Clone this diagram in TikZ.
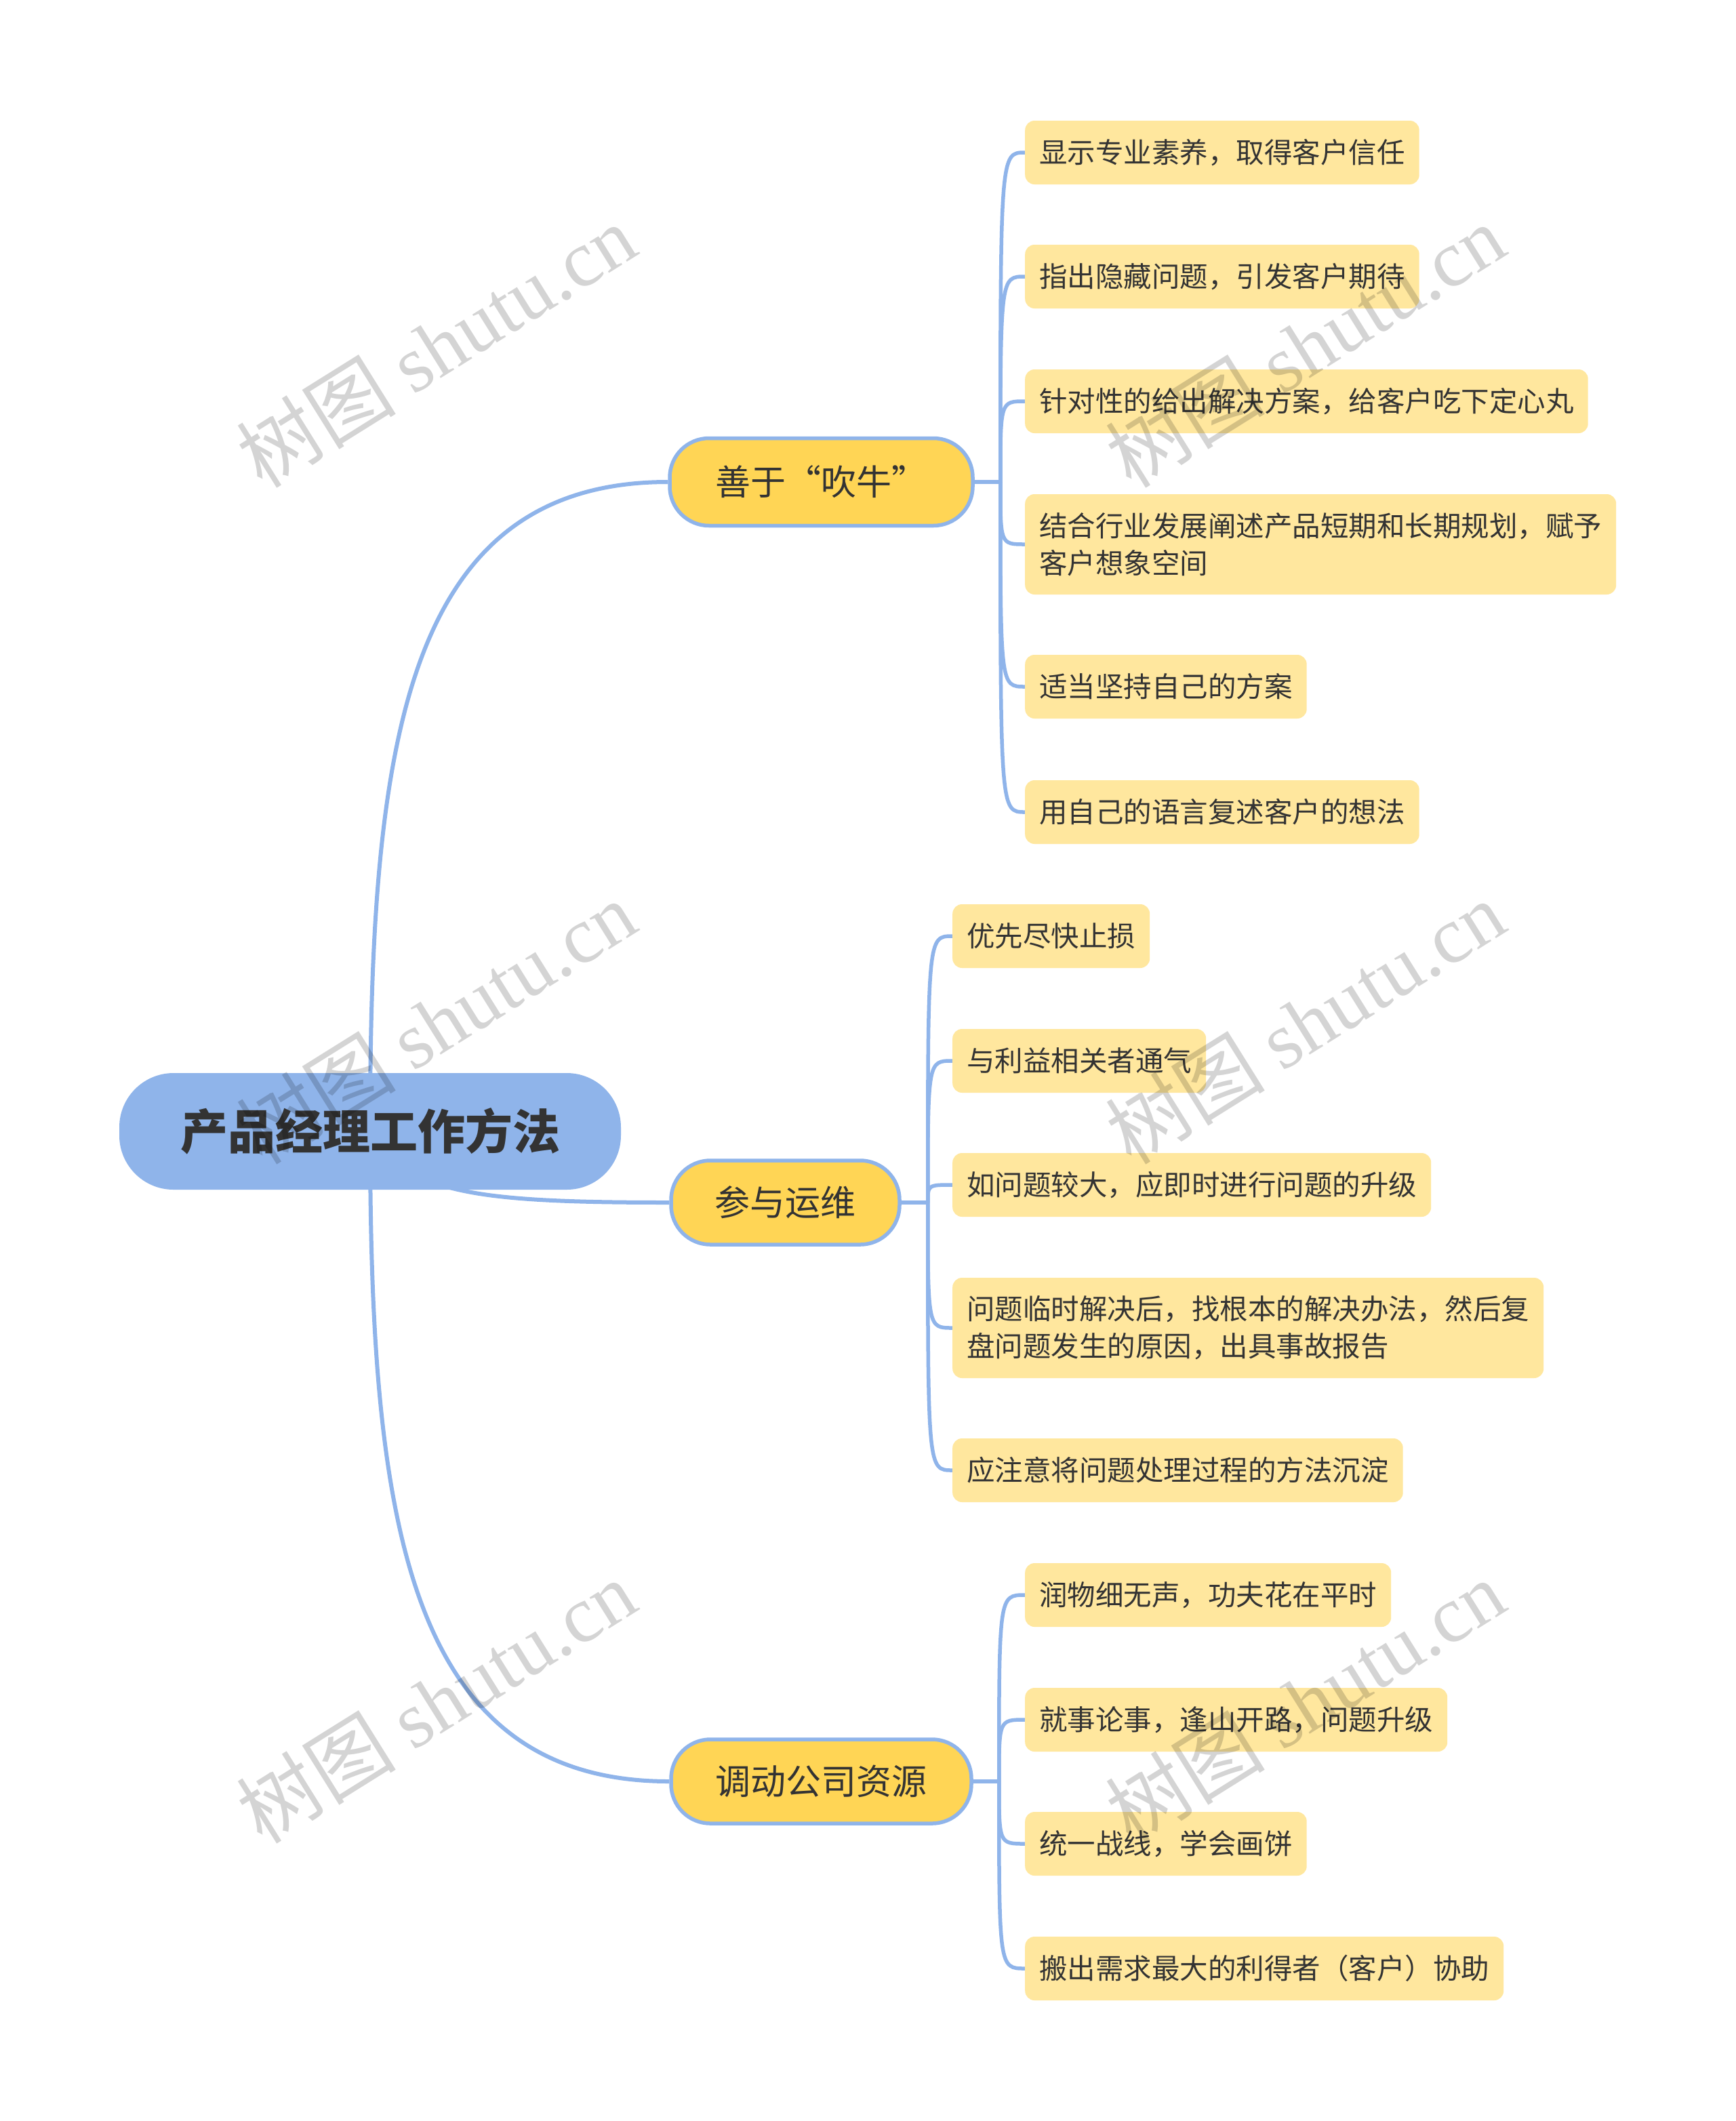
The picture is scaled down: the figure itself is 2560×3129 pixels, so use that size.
\documentclass[tikz,border=0pt]{standalone}
\usepackage{fontspec}
\setmainfont{Noto Sans CJK SC}
\newfontfamily\wmserif{Liberation Serif}
\usetikzlibrary{calc,backgrounds}
\definecolor{rootblue}{HTML}{8FB4EA}
\definecolor{linkblue}{HTML}{8FB4EA}
\definecolor{branchyel}{HTML}{FFD555}
\definecolor{leafyel}{HTML}{FFE79E}
\definecolor{txt}{HTML}{333333}
\begin{document}
\begin{tikzpicture}[x=1pt,y=-1pt,
  rootnode/.style={fill=rootblue, rounded corners=80pt, minimum height=172pt, minimum width=740pt, font=\fontsize{70}{84}\selectfont\bfseries, text=txt, inner sep=0pt},
  branchnode/.style={fill=branchyel, draw=linkblue, line width=5.5pt, rounded corners=58pt, font=\fontsize{52}{62}\selectfont, text=txt, inner sep=0pt},
  leafnode/.style={fill=leafyel, rounded corners=14pt, anchor=west, font=\fontsize{41.5}{55}\selectfont, text=txt, inner xsep=21pt, inner ysep=0pt, minimum height=94pt, align=left},
  tallleaf/.style={leafnode, minimum height=148pt},
  mainlink/.style={draw=linkblue, line width=6pt},
  leaflink/.style={draw=linkblue, line width=5.5pt},
  wmark/.style={text=black, opacity=0.17, rotate=32, font=\fontsize{118}{128}\selectfont, inner sep=0pt}
]
\useasboundingbox (0,0) rectangle (2560,3129);

% root and branches
\node[rootnode] (root) at (546,1669) {产品经理工作方法};
\node[branchnode, minimum width=447pt, minimum height=129pt] (b1) at (1211.5,711) {善于“吹牛”};
\node[branchnode, minimum width=337pt, minimum height=124pt] (b2) at (1158.5,1774) {参与运维};
\node[branchnode, minimum width=443pt, minimum height=124pt] (b3) at (1211.5,2628) {调动公司资源};

% leaves group 1
\node[leafnode] (l11) at (1512,225) {显示专业素养，取得客户信任};
\node[leafnode] (l12) at (1512,408) {指出隐藏问题，引发客户期待};
\node[leafnode] (l13) at (1512,592) {针对性的给出解决方案，给客户吃下定心丸};
\node[tallleaf] (l14) at (1512,803) {结合行业发展阐述产品短期和长期规划，赋予\\客户想象空间};
\node[leafnode] (l15) at (1512,1013) {适当坚持自己的方案};
\node[leafnode] (l16) at (1512,1198) {用自己的语言复述客户的想法};

% leaves group 2
\node[leafnode] (l21) at (1405,1381) {优先尽快止损};
\node[leafnode] (l22) at (1405,1565) {与利益相关者通气};
\node[leafnode] (l23) at (1405,1748) {如问题较大，应即时进行问题的升级};
\node[tallleaf] (l24) at (1405,1959) {问题临时解决后，找根本的解决办法，然后复\\盘问题发生的原因，出具事故报告};
\node[leafnode] (l25) at (1405,2169) {应注意将问题处理过程的方法沉淀};

% leaves group 3
\node[leafnode] (l31) at (1512,2353) {润物细无声，功夫花在平时};
\node[leafnode] (l32) at (1512,2537) {就事论事，逢山开路，问题升级};
\node[leafnode] (l33) at (1512,2720) {统一战线，学会画饼};
\node[leafnode] (l34) at (1512,2904) {搬出需求最大的利得者（客户）协助};

\coordinate (j1) at ($(b1.east)+(38,0)$);
\coordinate (j2) at ($(b2.east)+(39,0)$);
\coordinate (j3) at ($(b3.east)+(38,0)$);

\begin{scope}[on background layer]
  \fill[white] (0,0) rectangle (2560,3129);
  \draw[mainlink] (root.center) .. controls +(0,-569) and +(-390,0) .. (b1.west);
  \draw[mainlink] (root.center) .. controls +(55,91) and +(-290,0) .. (b2.west);
  \draw[mainlink] (root.center) .. controls +(0,569) and +(-390,0) .. (b3.west);
  \draw[leaflink] (b1.east) -- (j1);
  \draw[leaflink] (b2.east) -- (j2);
  \draw[leaflink] (b3.east) -- (j3);
  \foreach \l in {l11,l12,l13,l14,l15,l16}
    \draw[leaflink] (j1) .. controls (j1 |- \l.west) .. (\l.west);
  \foreach \l in {l21,l22,l23,l24,l25}
    \draw[leaflink] (j2) .. controls (j2 |- \l.west) .. (\l.west);
  \foreach \l in {l31,l32,l33,l34}
    \draw[leaflink] (j3) .. controls (j3 |- \l.west) .. (\l.west);
\end{scope}

% watermarks
\node[wmark] (w1) at (643,510) {树图 {\wmserif shutu.cn}};
\node[wmark] (w2) at (643,1508) {树图 {\wmserif shutu.cn}};
\node[wmark] (w3) at (643,2510) {树图 {\wmserif shutu.cn}};
\node[wmark] (w4) at (1925,510) {树图 {\wmserif shutu.cn}};
\node[wmark] (w5) at (1925,1508) {树图 {\wmserif shutu.cn}};
\node[wmark] (w6) at (1925,2510) {树图 {\wmserif shutu.cn}};
\end{tikzpicture}
\end{document}
